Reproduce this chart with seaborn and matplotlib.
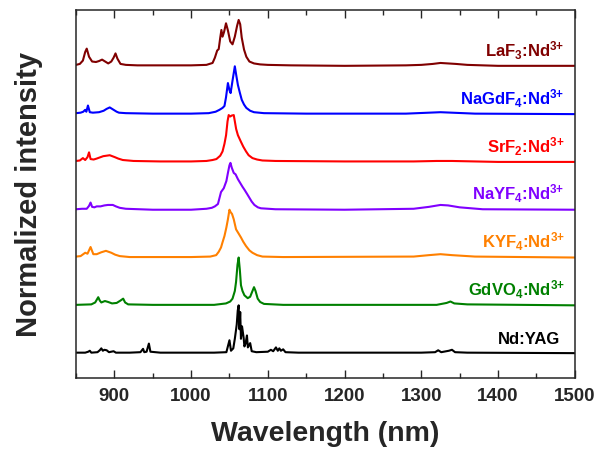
import matplotlib
matplotlib.use("Agg")
import matplotlib.pyplot as plt
import seaborn as sns
import pandas as pd
from matplotlib.ticker import MultipleLocator

sns.set_style("ticks")
plt.rcParams["font.family"] = ["Liberation Sans", "DejaVu Sans"]
plt.rcParams["font.weight"] = "bold"
plt.rcParams["mathtext.fontset"] = "custom"
plt.rcParams["mathtext.rm"] = "Liberation Sans:bold"
plt.rcParams["mathtext.bf"] = "Liberation Sans:bold"
plt.rcParams["mathtext.it"] = "Liberation Sans:bold"

# ---- data: (wavelength nm, normalized intensity) ----
laf3 = [(850,0.03),(855,0.05),(859,0.12),(862,0.3),(864,0.37),(867,0.2),(871,0.1),(876,0.09),
        (880,0.11),(884,0.14),(888,0.1),(892,0.06),(896,0.1),(899,0.18),(901.5,0.27),(904,0.16),
        (908,0.05),(915,0.03),(930,0.02),(960,0.02),(1000,0.02),(1020,0.03),(1028,0.07),(1031,0.18),
        (1034,0.33),(1036,0.36),(1038,0.6),(1039.5,0.76),(1041,0.62),(1043,0.72),(1045.5,0.9),
        (1048,0.75),(1051,0.52),(1054,0.46),(1057,0.62),(1060,0.85),(1062,0.97),(1064,0.88),
        (1066,0.6),(1069,0.35),(1072,0.2),(1076,0.1),(1082,0.06),(1090,0.04),(1100,0.03),
        (1130,0.02),(1200,0.01),(1280,0.02),(1300,0.03),(1315,0.05),(1325,0.07),(1335,0.06),
        (1345,0.05),(1360,0.03),(1400,0.01),(1450,0.01),(1500,0.01)]
nagdf4 = [(850,0.02),(856,0.03),(859.5,0.05),(862,0.09),(863.5,0.05),(865.6,0.18),(868,0.04),
          (872,0.03),(880,0.04),(886,0.07),(890,0.11),(894,0.14),(899,0.09),(903,0.05),(906,0.03),
          (915,0.02),(950,0.01),(1000,0.01),(1023,0.02),(1032,0.05),(1037,0.09),(1041,0.13),
          (1043.5,0.17),(1045.5,0.35),(1048,0.65),(1050,0.5),(1051.5,0.44),(1054,0.7),(1057,1.0),
          (1059,0.8),(1061,0.61),(1063.5,0.45),(1066,0.3),(1069,0.2),(1072,0.13),(1077,0.07),
          (1082,0.04),(1095,0.02),(1150,0.01),(1280,0.01),(1310,0.03),(1325,0.04),(1340,0.03),
          (1370,0.01),(1500,0.0)]
srf2 = [(850,0.02),(855,0.03),(859,0.08),(862,0.04),(865,0.1),(867,0.2),(869,0.06),(873,0.05),
        (877,0.07),(885.5,0.12),(894,0.14),(900.6,0.1),(905,0.07),(911,0.04),(925,0.02),(960,0.01),
        (1000,0.01),(1020,0.02),(1028,0.04),(1033,0.06),(1038,0.13),(1041,0.22),(1043.5,0.38),
        (1045.6,0.56),(1047.5,0.85),(1049,0.98),(1051,0.95),(1053,0.97),(1055.6,0.98),(1057,0.85),
        (1058.7,0.69),(1061,0.56),(1063,0.49),(1065,0.42),(1068,0.32),(1071.6,0.22),(1075,0.14),
        (1080,0.08),(1086,0.05),(1093,0.03),(1110,0.02),(1200,0.01),(1290,0.01),(1320,0.02),
        (1340,0.02),(1400,0.0),(1500,0.0)]
nayf4 = [(850,0.01),(858,0.02),(864,0.02),(867,0.08),(869,0.15),(871,0.06),(874,0.05),(877,0.07),
         (882,0.07),(887,0.09),(891.6,0.1),(895,0.1),(898,0.1),(902,0.07),(907,0.04),(915,0.02),
         (950,0.0),(1000,0.0),(1020,0.02),(1027,0.04),(1031,0.07),(1035,0.12),(1039,0.37),
         (1042.6,0.45),(1046,0.6),(1048,0.77),(1050,0.93),(1051.3,0.98),(1053,0.88),(1055.6,0.77),
         (1058,0.74),(1061,0.64),(1064,0.56),(1067,0.48),(1069.5,0.42),(1073,0.33),(1076,0.25),
         (1079,0.17),(1082.5,0.1),(1087,0.05),(1091,0.03),(1110,0.01),(1200,0.0),(1290,0.02),
         (1310,0.06),(1325,0.1),(1335,0.09),(1350,0.05),(1380,0.01),(1500,0.0)]
kyf4 = [(850,0.02),(856,0.03),(862,0.1),(865,0.08),(869,0.22),(872.6,0.07),(877,0.07),(883,0.11),
        (889,0.14),(896,0.1),(901,0.06),(907,0.03),(920,0.01),(1000,0.01),(1025,0.02),(1032.7,0.05),
        (1036,0.12),(1039,0.21),(1041,0.32),(1043.5,0.45),(1046,0.63),(1048,0.8),(1050,1.0),
        (1051.5,0.95),(1053.4,0.91),(1055.6,0.8),(1058.6,0.59),(1062,0.5),(1065,0.42),(1068,0.33),
        (1071.6,0.24),(1076,0.15),(1080,0.1),(1086,0.05),(1093,0.02),(1120,0.01),(1290,0.02),
        (1310,0.05),(1325,0.07),(1340,0.05),(1370,0.02),(1500,0.0)]
gdvo4 = [(850,0.01),(870,0.02),(875,0.06),(879,0.17),(881,0.1),(883,0.06),(887.7,0.09),(892,0.07),
         (897,0.04),(903,0.05),(908,0.1),(911.5,0.14),(914,0.06),(918,0.02),(950,0.01),(1030,0.01),
         (1045.5,0.04),(1051,0.08),(1054,0.14),(1057,0.3),(1058.6,0.49),(1060.5,0.85),(1062,1.0),
         (1063.5,0.75),(1065,0.42),(1067,0.3),(1069.5,0.21),(1073.8,0.15),(1077,0.18),(1080,0.3),
         (1082,0.38),(1084,0.3),(1086.8,0.14),(1090,0.07),(1095,0.03),(1120,0.01),(1320,0.01),
         (1333,0.05),(1338,0.08),(1343,0.04),(1360,0.02),(1500,0.0)]
ndyag = [(850,0.01),(862,0.01),(866,0.03),(868,0.05),(870,0.01),(878,0.02),(881,0.06),(883,0.1),
         (885,0.05),(887,0.07),(890,0.06),(893,0.02),(899,0.04),(902,0.01),(920,0.01),(934,0.02),
         (937.4,0.09),(939,0.02),(942,0.03),(945,0.2),(947,0.03),(960,0.01),(1030,0.01),(1046,0.02),
         (1050,0.27),(1052,0.05),(1055,0.1),(1057,0.3),(1058.6,0.49),(1059.5,0.6),(1060.8,0.89),
         (1062,1.0),(1063,0.5),(1064,0.86),(1065,0.3),(1066.4,0.56),(1068.5,0.32),(1069.5,0.14),
         (1071,0.2),(1072.8,0.37),(1074,0.12),(1077,0.21),(1079,0.04),(1085,0.02),(1100,0.03),
         (1104,0.07),(1107,0.04),(1110.6,0.12),(1113,0.05),(1115,0.1),(1117,0.05),(1120,0.08),
         (1123,0.02),(1140,0.01),(1300,0.01),(1318,0.02),(1322,0.06),(1326,0.02),(1336,0.05),
         (1340,0.07),(1344,0.02),(1360,0.01),(1500,0.0)]

series_names = ["Nd:YAG", "GdVO4", "KYF4", "NaYF4", "SrF2", "NaGdF4", "LaF3"]
series_data = [ndyag, gdvo4, kyf4, nayf4, srf2, nagdf4, laf3]
labels = [r"Nd:YAG", r"GdVO$_\mathbf{4}$:Nd$^\mathbf{3{+}}$", r"KYF$_\mathbf{4}$:Nd$^\mathbf{3{+}}$",
          r"NaYF$_\mathbf{4}$:Nd$^\mathbf{3{+}}$", r"SrF$_\mathbf{2}$:Nd$^\mathbf{3{+}}$",
          r"NaGdF$_\mathbf{4}$:Nd$^\mathbf{3{+}}$", r"LaF$_\mathbf{3}$:Nd$^\mathbf{3{+}}$"]
colors = ["#000000", "#008000", "#FF8000", "#8000FF", "#FF0000", "#0000FF", "#800000"]
xticks = [900, 1000, 1100, 1200, 1300, 1400, 1500]

rows = []
for k, (name, pts) in enumerate(zip(series_names, series_data)):
    for wl, val in pts:
        rows.append({"wl": wl, "y": val + k, "series": name})
df = pd.DataFrame(rows)

fig = plt.figure(figsize=(6.05, 4.5), dpi=100)
ax = fig.add_axes([0.1256, 0.16, 0.8244, 0.818])
sns.lineplot(data=df, x="wl", y="y", hue="series", hue_order=series_names,
             palette=dict(zip(series_names, colors)), sort=False, estimator=None,
             linewidth=1.5, legend=False, ax=ax)

for k, (lab, col) in enumerate(zip(labels, colors)):
    xpos = 1481 if k == 0 else 1487
    ax.text(xpos, k + 0.2, lab, color=col, fontsize=12, fontweight="bold",
            ha="right", va="baseline")

ax.set_xlim(850, 1500)
ax.set_ylim(-0.52, 7.18)
ax.set_xticks(xticks)
ax.xaxis.set_minor_locator(MultipleLocator(50))
ax.set_yticks([])
ax.tick_params(axis="x", which="both", direction="in", top=True, bottom=True, width=1.0)
ax.tick_params(axis="x", which="major", length=6, labelsize=13.5, pad=7)
ax.tick_params(axis="x", which="minor", length=3.5)
for lab in ax.get_xticklabels():
    lab.set_fontweight("bold")
for s in ax.spines.values():
    s.set_linewidth(1.1)
ax.set_xlabel("Wavelength (nm)", fontsize=20.5, fontweight="bold", labelpad=12)
ax.set_ylabel("Normalized intensity", fontsize=21, fontweight="bold", labelpad=24)

fig.savefig("out.png", dpi=100)
